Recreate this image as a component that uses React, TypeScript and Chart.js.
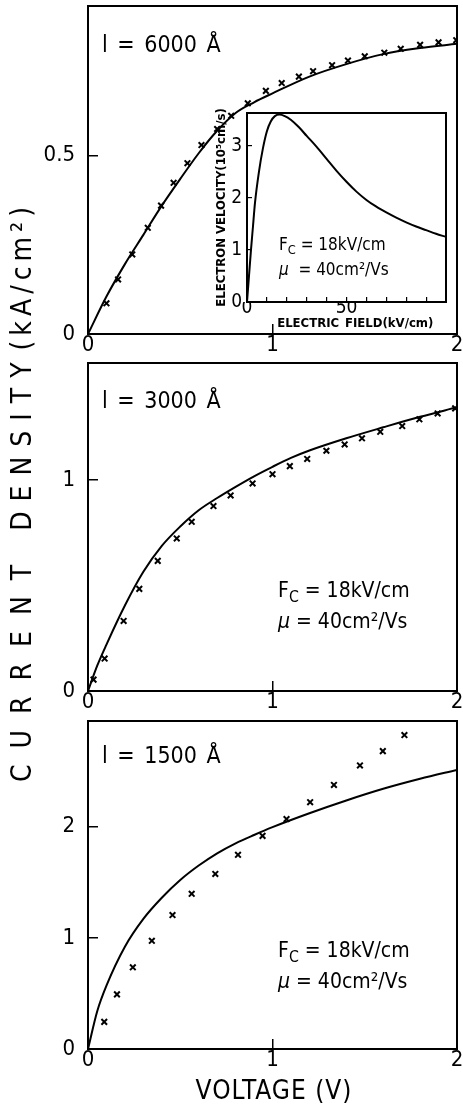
import React, { useEffect, useRef } from "react";
import { Chart, registerables } from "chart.js";

Chart.register(...registerables);

const FONT = "'DejaVu Sans Condensed', 'Liberation Sans Narrow', 'DejaVu Sans', sans-serif";

// ---------- shared axis ticks ----------
const voltageTicks = [0, 1, 2];
const ticks6000 = [0, 0.5];
const ticks3000 = [0, 1];
const ticks1500 = [0, 1, 2];
const fieldTicks = [0, 10, 20, 30, 40, 50, 60, 70, 80, 90];
const fieldTickLabels = [0, 50];
const velocityTicks = [0, 1, 2, 3];

// ---------- l = 6000 Å ----------
const curve6000V = [0, 0.1, 0.2, 0.3, 0.4, 0.5, 0.6, 0.7, 0.8, 0.9, 1.0, 1.2, 1.4, 1.6, 1.8, 2.0];
const curve6000J = [0, 0.105, 0.196, 0.278, 0.36, 0.435, 0.507, 0.57, 0.62, 0.65, 0.675, 0.722, 0.757, 0.785, 0.802, 0.814];
const meas6000V = [0.10, 0.163, 0.24, 0.324, 0.396, 0.464, 0.539, 0.615, 0.70, 0.776, 0.866, 0.964, 1.05, 1.143, 1.22, 1.323, 1.409, 1.50, 1.606, 1.695, 1.80, 1.90, 1.996];
const meas6000J = [0.086, 0.153, 0.223, 0.298, 0.360, 0.424, 0.479, 0.530, 0.575, 0.612, 0.647, 0.682, 0.704, 0.722, 0.737, 0.754, 0.767, 0.779, 0.789, 0.80, 0.811, 0.818, 0.824];

// ---------- l = 3000 Å ----------
const curve3000V = [0, 0.05, 0.1, 0.2, 0.3, 0.4, 0.5, 0.6, 0.7, 0.8, 0.9, 1.0, 1.1, 1.2, 1.4, 1.6, 1.8, 2.0];
const curve3000J = [0, 0.12, 0.22, 0.405, 0.565, 0.688, 0.78, 0.857, 0.915, 0.968, 1.018, 1.063, 1.105, 1.14, 1.198, 1.25, 1.30, 1.345];
const meas3000V = [0.03, 0.09, 0.193, 0.278, 0.378, 0.481, 0.562, 0.68, 0.773, 0.892, 1.0, 1.094, 1.188, 1.292, 1.391, 1.485, 1.584, 1.703, 1.796, 1.895, 1.99];
const meas3000J = [0.054, 0.154, 0.332, 0.484, 0.617, 0.723, 0.802, 0.877, 0.927, 0.984, 1.028, 1.066, 1.100, 1.139, 1.169, 1.198, 1.229, 1.256, 1.288, 1.316, 1.340];

// ---------- l = 1500 Å ----------
const curve1500V = [0, 0.05, 0.1, 0.2, 0.3, 0.4, 0.5, 0.6, 0.7, 0.8, 0.9, 1.0, 1.2, 1.4, 1.6, 1.8, 2.0];
const curve1500J = [0, 0.34, 0.57, 0.92, 1.17, 1.36, 1.52, 1.65, 1.76, 1.85, 1.925, 1.995, 2.12, 2.235, 2.34, 2.43, 2.51];
const meas1500V = [0.088, 0.157, 0.243, 0.346, 0.458, 0.562, 0.69, 0.813, 0.946, 1.076, 1.204, 1.333, 1.474, 1.598, 1.715];
const meas1500J = [0.244, 0.491, 0.735, 0.973, 1.205, 1.396, 1.574, 1.747, 1.917, 2.068, 2.22, 2.375, 2.55, 2.679, 2.824];

// ---------- inset: velocity-field ----------
const fieldKV = [0, 1, 2, 3, 4, 6, 8, 10, 12, 14, 16.3, 19, 22, 26, 30, 35, 40, 45, 50, 55, 60, 65, 70, 75, 80, 85, 90, 95, 100];
const velocity = [0, 0.5, 1.0, 1.45, 1.9, 2.5, 2.95, 3.28, 3.47, 3.57, 3.6, 3.57, 3.5, 3.36, 3.19, 2.98, 2.75, 2.52, 2.31, 2.12, 1.96, 1.83, 1.72, 1.62, 1.53, 1.45, 1.38, 1.31, 1.25];

const zip = (xs: number[], ys: number[]) => xs.map((x, i) => ({ x, y: ys[i] }));

const framePlugin = {
  id: "frame",
  beforeDraw(chart: any) {
    const o = chart.options.plugins?.frame;
    if (o && o.fill) {
      const { ctx, chartArea: a } = chart;
      ctx.save();
      ctx.fillStyle = "#fff";
      ctx.fillRect(a.left, a.top, a.right - a.left, a.bottom - a.top);
      ctx.restore();
    }
  },
  afterDraw(chart: any) {
    const { ctx, chartArea: a } = chart;
    ctx.save();
    ctx.strokeStyle = "#000";
    ctx.lineWidth = 2;
    ctx.strokeRect(a.left, a.top, a.right - a.left, a.bottom - a.top);
    ctx.restore();
  },
};

const zeroPad = (s: any) => {
  s.paddingLeft = 0;
  s.paddingRight = 0;
  s.paddingTop = 0;
  s.paddingBottom = 0;
};

type PanelProps = {
  top: number;
  height: number;
  padTop: number;
  xAxisH: number;
  yMax: number;
  yTicks: number[];
  curveX: number[];
  curveY: number[];
  ptsX: number[];
  ptsY: number[];
};

function Panel(p: PanelProps) {
  const ref = useRef<HTMLCanvasElement>(null);
  useEffect(() => {
    const chart = new Chart(ref.current as HTMLCanvasElement, {
      type: "scatter",
      data: {
        datasets: [
          {
            data: zip(p.curveX, p.curveY),
            showLine: true,
            borderColor: "#000",
            borderWidth: 2,
            pointRadius: 0,
            cubicInterpolationMode: "monotone",
            fill: false,
          } as any,
          {
            data: zip(p.ptsX, p.ptsY),
            showLine: false,
            pointStyle: "crossRot",
            pointRadius: 4,
            borderColor: "#000",
            backgroundColor: "#000",
            borderWidth: 2,
          } as any,
        ],
      },
      options: {
        responsive: false,
        animation: false,
        events: [],
        layout: { padding: { top: p.padTop, right: 3, left: 0, bottom: 0 } },
        plugins: { legend: { display: false }, tooltip: { enabled: false } },
        scales: {
          x: {
            type: "linear",
            min: 0,
            max: 2,
            afterBuildTicks: (s: any) => {
              s.ticks = voltageTicks.map((v) => ({ value: v }));
            },
            ticks: {
              font: { family: FONT, size: 22 },
              color: "#000",
              padding: 8,
              maxRotation: 0,
              autoSkip: false,
              callback: (v: any) => String(v),
            },
            grid: { drawOnChartArea: false, drawTicks: true, tickLength: -10, color: "#000", lineWidth: 1.5 },
            border: { display: false },
            afterFit: (s: any) => {
              s.height = p.xAxisH;
              zeroPad(s);
            },
          },
          y: {
            type: "linear",
            min: 0,
            max: p.yMax,
            afterBuildTicks: (s: any) => {
              s.ticks = p.yTicks.map((v) => ({ value: v }));
            },
            ticks: {
              font: { family: FONT, size: 22 },
              color: "#000",
              padding: 23,
              autoSkip: false,
              callback: (v: any) => String(v),
            },
            grid: { drawOnChartArea: false, drawTicks: true, tickLength: -10, color: "#000", lineWidth: 1.5 },
            border: { display: false },
            afterFit: (s: any) => {
              s.width = 88;
              zeroPad(s);
            },
          },
        },
      } as any,
      plugins: [framePlugin],
    });
    return () => chart.destroy();
  }, []);
  return (
    <canvas
      ref={ref}
      width={463}
      height={p.height}
      style={{ position: "absolute", left: 0, top: p.top, width: 463, height: p.height }}
    />
  );
}

function Inset() {
  const ref = useRef<HTMLCanvasElement>(null);
  useEffect(() => {
    const chart = new Chart(ref.current as HTMLCanvasElement, {
      type: "scatter",
      data: {
        datasets: [
          {
            data: zip(fieldKV, velocity),
            showLine: true,
            borderColor: "#000",
            borderWidth: 2,
            pointRadius: 0,
            cubicInterpolationMode: "monotone",
            fill: false,
          } as any,
        ],
      },
      options: {
        responsive: false,
        animation: false,
        events: [],
        layout: { padding: { top: 5, right: 6, left: 0, bottom: 0 } },
        plugins: { legend: { display: false }, tooltip: { enabled: false }, frame: { fill: true } },
        scales: {
          x: {
            type: "linear",
            min: 0,
            max: 100,
            afterBuildTicks: (s: any) => {
              s.ticks = fieldTicks.map((v) => ({ value: v }));
            },
            ticks: {
              font: { family: FONT, size: 19 },
              color: "#000",
              padding: 0,
              maxRotation: 0,
              autoSkip: false,
              callback: (v: any) => (fieldTickLabels.includes(v) ? String(v) : ""),
            },
            grid: { drawOnChartArea: false, drawTicks: true, tickLength: -5, color: "#000", lineWidth: 1.2 },
            border: { display: false },
            title: {
              display: true,
              text: "\u2003\u2002ELECTRIC\u2002FIELD(kV/cm)",
              font: { family: FONT, size: 13, weight: "bold" },
              color: "#000",
              padding: { top: 0, bottom: 2 },
            },
            afterFit: (s: any) => {
              s.height = 31;
              zeroPad(s);
            },
          },
          y: {
            type: "linear",
            min: 0,
            max: 3.63,
            afterBuildTicks: (s: any) => {
              s.ticks = velocityTicks.map((v) => ({ value: v }));
            },
            ticks: {
              font: { family: FONT, size: 19 },
              color: "#000",
              padding: 10,
              autoSkip: false,
              callback: (v: any) => String(v),
            },
            grid: { drawOnChartArea: false, drawTicks: true, tickLength: -5, color: "#000", lineWidth: 1.2 },
            border: { display: false },
            title: {
              display: true,
              text: "ELECTRON VELOCITY(10⁵cm/s)",
              font: { family: FONT, size: 13, weight: "bold" },
              color: "#000",
              padding: { top: 6, bottom: 0 },
            },
            afterFit: (s: any) => {
              s.width = 39;
              zeroPad(s);
            },
          },
        },
      } as any,
      plugins: [framePlugin],
    });
    return () => chart.destroy();
  }, []);
  return (
    <canvas
      ref={ref}
      width={244}
      height={225}
      style={{ position: "absolute", left: 208, top: 108, width: 244, height: 225 }}
    />
  );
}

function Txt(props: { left: number; top: number; size: number; children: any; style?: any }) {
  return (
    <div
      style={{
        position: "absolute",
        left: props.left,
        top: props.top,
        fontSize: props.size,
        lineHeight: 1,
        fontFamily: FONT,
        whiteSpace: "nowrap",
        color: "#000",
        ...(props.style || {}),
      }}
    >
      {props.children}
    </div>
  );
}

const Sub = ({ children }: { children: any }) => (
  <span style={{ fontSize: "0.75em", verticalAlign: "-0.3em" }}>{children}</span>
);

function Params({ left, top, size, gap, muSpace }: { left: number; top: number; size: number; gap: number; muSpace?: boolean }) {
  return (
    <>
      <Txt left={left} top={top} size={size}>
        F<Sub>C</Sub> = 18kV/cm
      </Txt>
      <Txt left={left} top={top + gap} size={size}>
        <i>μ</i>
        {muSpace ? "\u00a0\u00a0" : " "}= 40cm²/Vs
      </Txt>
    </>
  );
}

export default function App() {
  return (
    <div
      style={{
        position: "absolute",
        left: 0,
        top: 0,
        width: 463,
        height: 1105,
        background: "#fff",
        overflow: "hidden",
      }}
    >
      <Panel top={0} height={360} padTop={5} xAxisH={26} yMax={0.92} yTicks={ticks6000}
        curveX={curve6000V} curveY={curve6000J} ptsX={meas6000V} ptsY={meas6000J} />
      <Panel top={355} height={360} padTop={8} xAxisH={24} yMax={1.555} yTicks={ticks3000}
        curveX={curve3000V} curveY={curve3000J} ptsX={meas3000V} ptsY={meas3000J} />
      <Panel top={715} height={360} padTop={4} xAxisH={26} yMax={2.95} yTicks={ticks1500}
        curveX={curve1500V} curveY={curve1500J} ptsX={meas1500V} ptsY={meas1500J} />
      <Inset />

      <Txt left={102} top={33} size={23} style={{ wordSpacing: 3 }}>l = 6000 Å</Txt>
      <Txt left={102} top={389} size={23} style={{ wordSpacing: 3 }}>l = 3000 Å</Txt>
      <Txt left={102} top={744} size={23} style={{ wordSpacing: 3 }}>l = 1500 Å</Txt>

      <Params left={279} top={236} size={17} gap={25} muSpace />
      <Params left={278} top={580} size={21} gap={31} />
      <Params left={278} top={940} size={21} gap={31} />

      <Txt left={88} top={1077} size={26} style={{ width: 372, textAlign: "center", letterSpacing: 1 }}>
        VOLTAGE (V)
      </Txt>

      <div
        style={{
          position: "absolute",
          left: 22,
          top: 492,
          transform: "translate(-50%, -50%) rotate(-90deg)",
          fontFamily: FONT,
          fontSize: 28,
          lineHeight: 1,
          whiteSpace: "nowrap",
          color: "#000",
        }}
      >
        <span style={{ letterSpacing: 16 }}>CURRENT</span>
        <span style={{ display: "inline-block", width: 18 }} />
        <span style={{ letterSpacing: 10 }}>DENSITY</span>
        <span style={{ display: "inline-block", width: 2 }} />
        <span style={{ letterSpacing: 5 }}>(kA/cm²)</span>
      </div>
    </div>
  );
}
